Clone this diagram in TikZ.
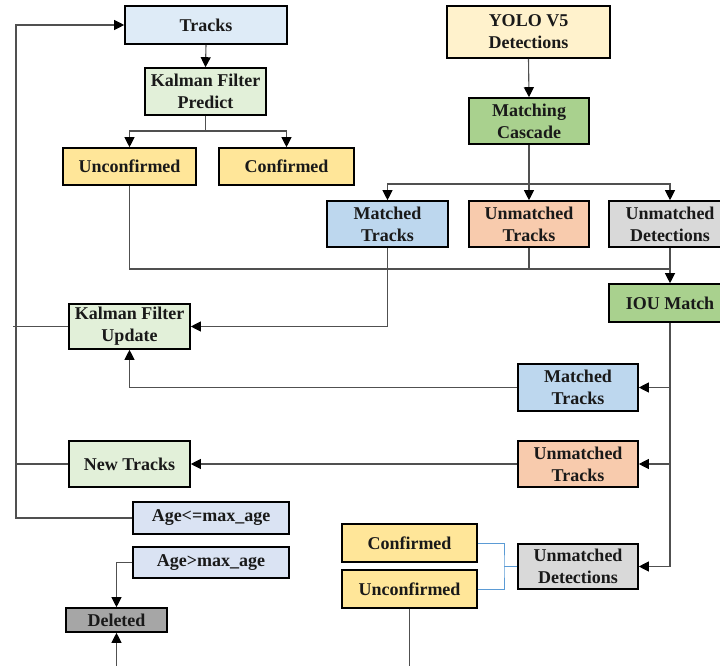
\documentclass[tikz,border=0pt]{standalone}
\usepackage{fontspec}
\setmainfont{Liberation Serif}
\usetikzlibrary{arrows.meta,calc}
\definecolor{cTracks}{HTML}{DEEBF7}
\definecolor{cLgreen}{HTML}{E2F0D9}
\definecolor{cYellow}{HTML}{FFE699}
\definecolor{cLyellow}{HTML}{FFF2CC}
\definecolor{cGreen}{HTML}{A9D18E}
\definecolor{cBlue}{HTML}{BDD7EE}
\definecolor{cOrange}{HTML}{F8CBAD}
\definecolor{cGray}{HTML}{D9D9D9}
\definecolor{cAge}{HTML}{DAE3F3}
\definecolor{cDel}{HTML}{A6A6A6}
\definecolor{cLine}{HTML}{505050}
\definecolor{cBlueLine}{HTML}{5B9BD5}
\tikzset{
  box/.style={draw=black, line width=1.6pt, rectangle, inner sep=0pt, align=center,
    font=\bfseries\fontsize{18}{22}\selectfont, text=black!90},
  wire/.style={draw=cLine, line width=1.1pt},
  conn/.style={wire, -{Triangle[length=10pt,width=10pt,color=black]}},
  bwire/.style={draw=cBlueLine, line width=0.9pt},
}
\begin{document}
\begin{tikzpicture}[x=1pt,y=-1pt]
\useasboundingbox (0,0) rectangle (720,666);
% nodes
\node[box, fill=cTracks, minimum width=162pt, minimum height=38pt] (tracks) at (206,25) {Tracks};
\node[box, fill=cLgreen, minimum width=121pt, minimum height=47pt] (kfp) at (205.5,91.5) {Kalman Filter\\Predict};
\node[box, fill=cYellow, minimum width=133pt, minimum height=37pt] (uncT) at (129.5,166.5) {Unconfirmed};
\node[box, fill=cYellow, minimum width=135pt, minimum height=37pt] (confT) at (286.5,166.5) {Confirmed};
\node[box, fill=cLyellow, minimum width=163pt, minimum height=52pt] (yolo) at (528.5,32) {YOLO V5\\Detections};
\node[box, fill=cGreen, minimum width=120pt, minimum height=46pt] (mc) at (529,121) {Matching\\Cascade};
\node[box, fill=cBlue, minimum width=121pt, minimum height=46pt] (mtT) at (387.5,224) {Matched\\Tracks};
\node[box, fill=cOrange, minimum width=120pt, minimum height=46pt] (utT) at (529,224) {Unmatched\\Tracks};
\node[box, fill=cGray, minimum width=122pt, minimum height=46pt] (udT) at (670,224) {Unmatched\\Detections};
\node[box, fill=cGreen, minimum width=122pt, minimum height=38pt] (iou) at (670,303) {IOU Match};
\node[box, fill=cLgreen, minimum width=121pt, minimum height=45pt] (kfu) at (129.5,326.5) {Kalman Filter\\Update};
\node[box, fill=cBlue, minimum width=120pt, minimum height=47pt] (mtR) at (578,387.5) {Matched\\Tracks};
\node[box, fill=cOrange, minimum width=120pt, minimum height=46pt] (utR) at (578,464) {Unmatched\\Tracks};
\node[box, fill=cGray, minimum width=120pt, minimum height=45pt] (udR) at (578,566.5) {Unmatched\\Detections};
\node[box, fill=cLgreen, minimum width=121pt, minimum height=46pt] (nt) at (129.5,464) {New Tracks};
\node[box, fill=cAge, minimum width=156pt, minimum height=32pt] (agele) at (211,518) {Age<=max\_age};
\node[box, fill=cAge, minimum width=156pt, minimum height=31pt] (agegt) at (211,562.5) {Age>max\_age};
\node[box, fill=cDel, minimum width=101pt, minimum height=24pt] (del) at (116.5,620) {Deleted};
\node[box, fill=cYellow, minimum width=135pt, minimum height=38pt] (confB) at (409.5,543) {Confirmed};
\node[box, fill=cYellow, minimum width=135pt, minimum height=38pt] (uncB) at (409.5,589) {Unconfirmed};
% helper coordinates
\coordinate (lt) at (16,25);
\coordinate (kl) at (13,326.5);
\coordinate (j1) at (205.5,131);
\coordinate (j2) at (529,184);
\coordinate (j3) at (670,269);
\coordinate (jb) at (504,566.5);
\coordinate (ubot) at (409.5,668);
\coordinate (dbot) at (116.5,668);
% connectors
\draw[conn] (tracks.south) -- (kfp.north);
\draw[wire] (kfp.south) -- (j1);
\draw[conn] (j1) -| (uncT.north);
\draw[conn] (j1) -| (confT.north);
\draw[conn] (yolo.south) -- (mc.north);
\draw[wire] (mc.south) -- (j2);
\draw[conn] (j2) -| (mtT.north);
\draw[conn] (j2) -- (utT.north);
\draw[conn] (j2) -| (udT.north);
\draw[wire] (uncT.south) |- (j3);
\draw[wire] (utT.south) -- (utT.south |- j3);
\draw[conn] (udT.south) -- (iou.north);
\draw[conn] (mtT.south) |- (kfu.east);
\draw[wire] (iou.south) -- (iou.south |- udR.east);
\draw[conn] (iou.south |- mtR.east) -- (mtR.east);
\draw[conn] (iou.south |- utR.east) -- (utR.east);
\draw[conn] (iou.south |- udR.east) -- (udR.east);
\draw[conn] (mtR.west) -| (kfu.south);
\draw[conn] (utR.west) -- (nt.east);
\draw[bwire] (udR.west) -- (jb);
\draw[bwire] (confB.east) -| (jb) |- (uncB.east);
\draw[wire] (uncB.south) -- (ubot);
\draw[conn] (dbot) -- (del.south);
\draw[conn] (agegt.west) -| (del.north);
\draw[conn] (agele.west) -| (lt) -- (tracks.west);
\draw[wire] (kfu.west) -- (kl);
\draw[wire] (nt.west) -- (nt.west -| lt);
\end{tikzpicture}
\end{document}
